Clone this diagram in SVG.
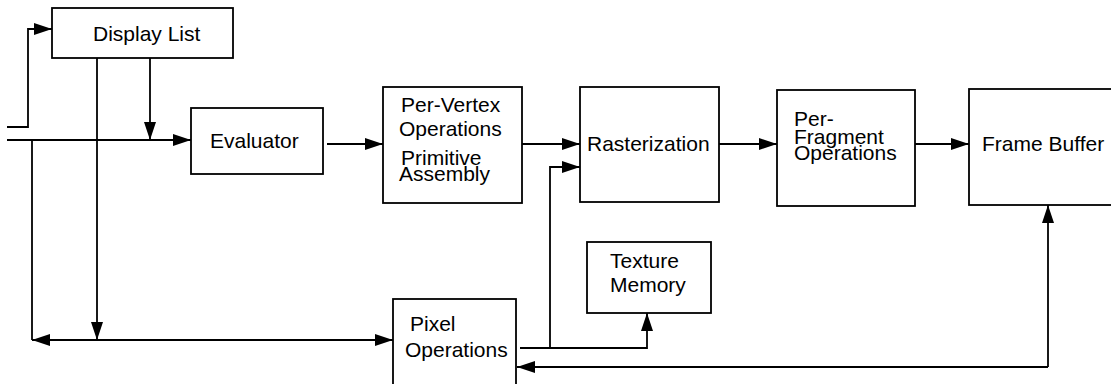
<svg xmlns="http://www.w3.org/2000/svg" width="1111" height="384" viewBox="0 0 1111 384">
<style>
  .box { fill: #fff; stroke: #000; stroke-width: 1.8; }
  .lbl { font-family: "Liberation Sans", Arial, Helvetica, sans-serif; font-size: 21px; fill: #000; }
  .ln { fill: none; stroke: #000; stroke-width: 1.8; }
  .arr { marker-end: url(#ah); }
</style>
<defs>
  <marker id="ah" markerUnits="userSpaceOnUse" markerWidth="18" markerHeight="12" refX="18" refY="6" orient="auto" viewBox="0 0 18 12">
    <path d="M0,0 L18,6 L0,12 Z" fill="#000"/>
  </marker>
  <marker id="ahs" markerUnits="userSpaceOnUse" markerWidth="18" markerHeight="12" refX="18" refY="6" orient="auto-start-reverse" viewBox="0 0 18 12">
    <path d="M0,0 L18,6 L0,12 Z" fill="#000"/>
  </marker>
</defs>
<rect width="1111" height="384" fill="#fff"/>

<g id="connectors">
  <path class="ln arr" d="M7,127 H28 V29 H52"/>
  <path class="ln arr" d="M7,140 H191"/>
  <path class="ln arr" d="M150,58 V140"/>
  <path class="ln arr" d="M97,58 V340"/>
  <path class="ln" d="M32,140 V340"/>
  <path class="ln" d="M32,340 H393" marker-start="url(#ahs)" marker-end="url(#ah)"/>
  <path class="ln arr" d="M327,144 H383"/>
  <path class="ln arr" d="M522,144 H580"/>
  <path class="ln arr" d="M719,144 H777"/>
  <path class="ln arr" d="M914,144 H969"/>
  <path class="ln arr" d="M520,348 H647 V313"/>
  <path class="ln arr" d="M550,348 V167 H580"/>
  <path class="ln arr" d="M1048,367 V205"/>
  <path class="ln arr" d="M1048,367 H517"/>
</g>

<g id="display-list">
  <rect class="box" x="52" y="8" width="181" height="50"/>
  <text class="lbl" x="93" y="41">Display List</text>
</g>
<g id="evaluator">
  <rect class="box" x="191" y="108" width="132" height="66"/>
  <text class="lbl" x="210" y="148">Evaluator</text>
</g>
<g id="per-vertex">
  <rect class="box" x="383" y="87" width="139" height="116"/>
  <text class="lbl" x="401" y="112">Per-Vertex</text>
  <text class="lbl" x="399" y="136">Operations</text>
  <text class="lbl" x="401" y="165">Primitive</text>
  <text class="lbl" x="399" y="181">Assembly</text>
</g>
<g id="rasterization">
  <rect class="box" x="580" y="87" width="139" height="115"/>
  <text class="lbl" x="587" y="151">Rasterization</text>
</g>
<g id="per-fragment">
  <rect class="box" x="777" y="90" width="138" height="116"/>
  <text class="lbl" x="794" y="126">Per-</text>
  <text class="lbl" x="794" y="144">Fragment</text>
  <text class="lbl" x="794" y="160">Operations</text>
</g>
<g id="frame-buffer">
  <rect class="box" x="969" y="89" width="150" height="116"/>
  <text class="lbl" x="982" y="151">Frame Buffer</text>
</g>
<g id="texture-memory">
  <rect class="box" x="587" y="242" width="124" height="71"/>
  <text class="lbl" x="610" y="268">Texture</text>
  <text class="lbl" x="610" y="292">Memory</text>
</g>
<g id="pixel-operations">
  <rect class="box" x="393" y="299" width="123" height="100"/>
  <text class="lbl" x="410" y="331">Pixel</text>
  <text class="lbl" x="405" y="357">Operations</text>
</g>
</svg>
